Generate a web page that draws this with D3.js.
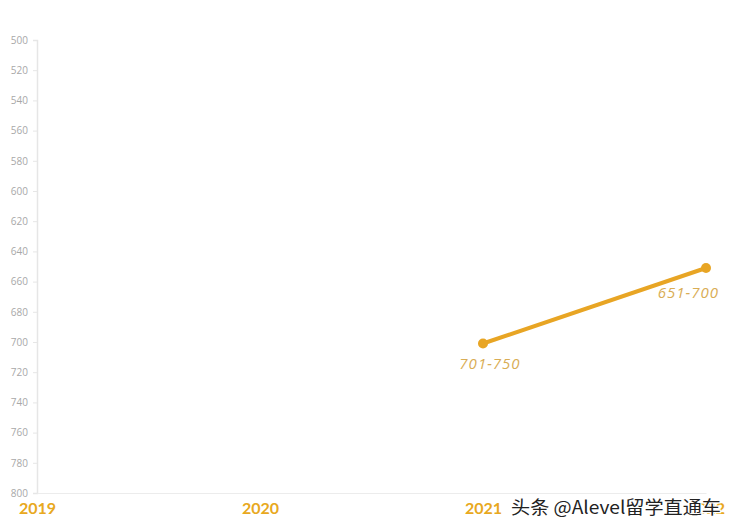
<!DOCTYPE html>
<html><head><meta charset="utf-8">
<script src="https://cdn.jsdelivr.net/npm/d3@7"></script>
<style>body{margin:0;background:#fff;}svg{display:block;}</style>
</head><body><svg id="c" width="737" height="531"></svg>
<script>
const years = ["2019","2020","2021","2022"];
const seriesYears = ["2021","2022"];
const seriesValues = [701, 651];
const pointLabels = ["701-750","651-700"];
const yTicks = [500,520,540,560,580,600,620,640,660,680,700,720,740,760,780,800];
const watermark = "头条 @Alevel留学直通车";

const W = 737;
const svg = d3.select("#c");
const x = d3.scalePoint().domain(years).range([37, 706]);
const y = d3.scaleLinear().domain([500, 800]).range([40, 493]);

// y axis
const ya = svg.append("g").attr("transform","translate(37,0)")
  .call(d3.axisLeft(y).tickValues(yTicks).tickSize(4).tickPadding(5));
ya.select(".domain").attr("stroke","#e6e6e6").attr("stroke-width",1.5);
ya.selectAll(".tick line").attr("stroke","#e6e6e6");
ya.selectAll(".tick text").attr("fill","#a8a8a8").style("font-family","'Open Sans',sans-serif").style("font-size","10px");

// x axis
const xa = svg.append("g").attr("transform","translate(0,493)")
  .call(d3.axisBottom(x).tickSize(0).tickPadding(10));
xa.select(".domain").attr("stroke","#ececec").attr("stroke-width",1.2);
xa.selectAll(".tick text").attr("fill","#e8a820").style("font-family","Lato,'Open Sans',sans-serif")
  .style("font-size","16px").style("font-weight","bold");

const pts = seriesYears.map((d,i)=>({year:d, value:seriesValues[i], label:pointLabels[i]}));
svg.append("path").datum(pts)
  .attr("d", d3.line().x(d=>x(d.year)).y(d=>y(d.value)))
  .attr("fill","none").attr("stroke","#e8a524").attr("stroke-width",4);
svg.selectAll("circle.p").data(pts).enter().append("circle")
  .attr("cx",d=>x(d.year)).attr("cy",d=>y(d.value)).attr("r",5).attr("fill","#e8a524");
const lbl = svg.selectAll("text.lbl").data(pts).enter().append("text")
  .attr("text-anchor","middle").attr("fill","#d9ad55")
  .style("font-family","'Open Sans',sans-serif").style("font-size","15px").style("font-style","italic")
  .style("letter-spacing","1px")
  .text(d=>d.label);
lbl.each(function(d){
  const w = this.getComputedTextLength();
  let cx = x(d.year) + 7, dy = 25;
  if (cx + w/2 > W - 18) { cx = W - 18 - w/2; dy = 30; }
  d3.select(this).attr("x", cx).attr("y", y(d.value) + dy);
});

// watermark
svg.append("text").attr("x",511).attr("y",514)
  .attr("fill","#222").attr("stroke","#fff").attr("stroke-width",2.5).attr("paint-order","stroke")
  .attr("textLength",210).attr("lengthAdjust","spacingAndGlyphs")
  .style("font-family","'Noto Sans CJK SC',sans-serif").style("font-size","18px")
  .text(watermark);
</script></body></html>
